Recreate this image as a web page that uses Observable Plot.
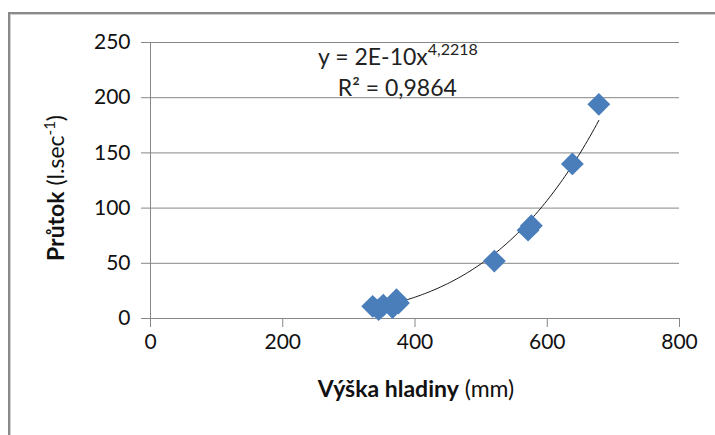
<!DOCTYPE html>
<html><head><meta charset="utf-8">
<script src="https://cdn.jsdelivr.net/npm/d3@7"></script>
<script src="https://cdn.jsdelivr.net/npm/@observablehq/plot@0.6"></script>
<style>
body{margin:0;background:#fff;}
#wrap{position:relative;width:715px;height:435px;overflow:hidden;background:#fff;}
#frame{position:absolute;left:8px;top:12px;width:800px;height:500px;border-left:2px solid #8a8a8a;border-top:2px solid #8a8a8a;box-shadow:inset 1px 1px 0 #cfcfcf;}
#chart{position:absolute;left:0;top:0;}
#chart svg{font-family:Lato,"Open Sans",sans-serif;}
</style>
</head><body>
<div id="wrap"><div id="frame"></div><div id="chart"></div></div>
<script>
// data
const vyska  = [336, 345, 352, 366, 372, 375, 520, 571, 576, 638, 678];
const prutok = [ 11,   8,  12,  10,  17,  14,  52,  80,  84, 140, 194];
const xTicks = [0, 200, 400, 600, 800];
const yTicks = [0, 50, 100, 150, 200, 250];
// power trendline shown in the chart
const fitA = 2e-10, fitB = 4.2218;
const eqMain = "y = 2E-10x", eqExp = "4,2218", r2Text = "R² = 0,9864";
const xLabelBold = "Výška hladiny", xLabelRest = " (mm)";
const yLabelBold = "Průtok", yLabelRest = " (l.sec", yLabelSup = "-1", yLabelEnd = ")";

const data = vyska.map((v, i) => ({x: v, y: prutok[i]}));
const xMin = d3.min(vyska), xMax = d3.max(vyska);
const curve = d3.range(0, 101).map(i => {
  const x = xMin + (xMax - xMin) * i / 100;
  return {x, y: fitA * Math.pow(x, fitB)};
});

const grid = "#878787";
const plot = Plot.plot({
  width: 715, height: 435,
  marginLeft: 150, marginRight: 36, marginTop: 42, marginBottom: 117,
  style: {fontFamily: "Lato, 'Open Sans', sans-serif", background: "transparent", overflow: "visible"},
  x: {domain: [0, 800]},
  y: {domain: [0, 250]},
  marks: [
    Plot.gridY(yTicks, {stroke: grid, strokeOpacity: 1, strokeWidth: 1}),
    Plot.ruleX([0], {stroke: grid, strokeWidth: 1}),
    Plot.axisX(xTicks, {tickSize: 9, tickPadding: 7, fontSize: 21, stroke: grid, fill: "#111", label: null}),
    Plot.axisY(yTicks, {tickSize: 9, tickPadding: 11, fontSize: 21, stroke: grid, fill: "#111", label: null}),
    Plot.line(curve, {x: "x", y: "y", stroke: "#1a1a1a", strokeWidth: 1}),
    Plot.dot(data, {x: "x", y: "y", symbol: "diamond2", r: 10.3, fill: "#4a7ebb", stroke: "none"})
  ]
});
document.getElementById("chart").appendChild(plot);

const svg = d3.select(plot);
const sx = plot.scale("x"), sy = plot.scale("y");
const ff = "Lato, 'Open Sans', sans-serif";

// equation
const eq = svg.append("text").attr("x", sx.apply(375)).attr("y", sy.apply(229))
  .attr("text-anchor", "middle").attr("font-family", ff).attr("font-size", 23).attr("fill", "#222");
eq.append("tspan").text(eqMain);
eq.append("tspan").attr("font-size", 16).attr("dy", -10).text(eqExp);
svg.append("text").attr("x", sx.apply(374)).attr("y", sy.apply(201))
  .attr("text-anchor", "middle").attr("font-family", ff).attr("font-size", 23).attr("fill", "#222").text(r2Text);

// x label
const xl = svg.append("text").attr("x", 416).attr("y", 397).attr("text-anchor", "middle")
  .attr("font-family", ff).attr("font-size", 23).attr("fill", "#111");
xl.append("tspan").attr("font-weight", "bold").text(xLabelBold);
xl.append("tspan").text(xLabelRest);

// y label
const yl = svg.append("text").attr("transform", "translate(64,188) rotate(-90)").attr("text-anchor", "middle")
  .attr("font-family", ff).attr("font-size", 23).attr("fill", "#111");
yl.append("tspan").attr("font-weight", "bold").text(yLabelBold);
yl.append("tspan").text(yLabelRest);
yl.append("tspan").attr("font-size", 15).attr("dy", -9).text(yLabelSup);
yl.append("tspan").attr("dy", 9).text(yLabelEnd);
</script>
</body></html>
